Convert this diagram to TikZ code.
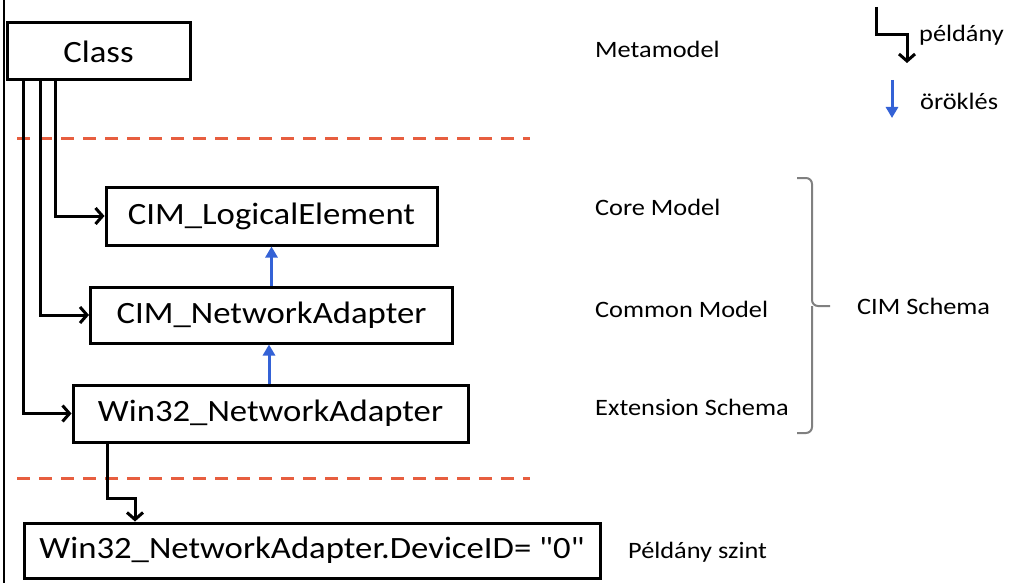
\documentclass[tikz,border=0pt]{standalone}
\usepackage{fontspec}
\setmainfont[FakeStretch=1.12, Ligatures=TeXOff]{Carlito}
\usetikzlibrary{arrows.meta}
\definecolor{dashred}{RGB}{231,94,63}
\definecolor{inhblue}{RGB}{52,98,214}
\definecolor{bracegray}{RGB}{128,128,128}
\tikzset{
  box/.style={draw=black, line width=3pt, fill=white, inner sep=0pt,
    font=\fontsize{31}{36}\selectfont},
  lbl/.style={anchor=base west, inner sep=0pt, font=\fontsize{23.5}{28}\selectfont},
  inst/.style={draw=black, line width=3pt, -{Straight Barb[length=7pt,width=16pt,line width=3pt]}},
  inh/.style={draw=inhblue, line width=3pt, -{Triangle[length=11pt,width=12pt]}},
  sep/.style={draw=dashred, line width=3pt, dash pattern=on 13pt off 9pt},
}
\begin{document}
\begin{tikzpicture}[x=1pt,y=-1pt]
\useasboundingbox (0,0) rectangle (1011,583);
\draw[black, line width=2pt] (4,0) -- (4,583);

% separators
\draw[sep] (17,138) -- (530,138);
\draw[sep] (17,478) -- (530,478);

% boxes
\node[box, minimum width=183pt, minimum height=57pt] (cls) at (98.5,51.5) {Class};
\node[box, minimum width=331pt, minimum height=58pt] (le) at (271.5,216) {CIM\_LogicalElement};
\node[box, minimum width=362pt, minimum height=56pt] (na) at (271.5,315) {CIM\_NetworkAdapter};
\node[box, minimum width=395pt, minimum height=57pt] (win) at (270.5,413.5) {Win32\_NetworkAdapter};
\node[box, minimum width=576pt, minimum height=55pt] (dev) at (312,550.5) {Win32\_NetworkAdapter.DeviceID= "0"};

% instance connectors from Class
\draw[inst] ([xshift=50pt]cls.south west) |- (le.west);
\draw[inst] ([xshift=35pt]cls.south west) |- (na.west);
\draw[inst] ([xshift=18pt]cls.south west) |- (win.west);

% inheritance
\draw[inh] (na.north) -- (le.south -| na.north);
\draw[inh] (win.north -| 269,0) -- (na.south -| 269,0);

% instance to object
\coordinate (e1) at (107,498);
\draw[inst] (win.south -| e1) -- (e1) -| (dev.north -| 135,0);

% level labels
\node[lbl] (lmeta) at (595,58) {Metamodel};
\node[lbl] (lcore) at (595,215) {Core Model};
\node[lbl] (lcommon) at (595,317) {Common Model};
\node[lbl] (lext) at (595,415) {Extension Schema};
\node[lbl] (lpel) at (628,558) {Példány szint};
\node[lbl] (lcim) at (857,314) {CIM Schema};

% brace
\coordinate (bt) at (797,178);
\coordinate (bm) at (812,306);
\coordinate (bb) at (797,433);
\coordinate (bn) at (830,306);
\draw[bracegray, line width=2pt, rounded corners=6pt] (bt) -| (bm) -- (bn);
\draw[bracegray, line width=2pt, rounded corners=6pt] (bb) -| (bm);

% legend
\coordinate (g1) at (876,7);
\coordinate (g2) at (907,35);
\coordinate (g3) at (907,63);
\draw[inst] (g1) |- (g2) -- (g3);
\node[lbl] (lpeld) at (919,42) {példány};
\coordinate (h1) at (892,80);
\coordinate (h2) at (892,118);
\draw[inh] (h1) -- (h2);
\node[lbl] (lorok) at (920,110) {öröklés};
\end{tikzpicture}
\end{document}
